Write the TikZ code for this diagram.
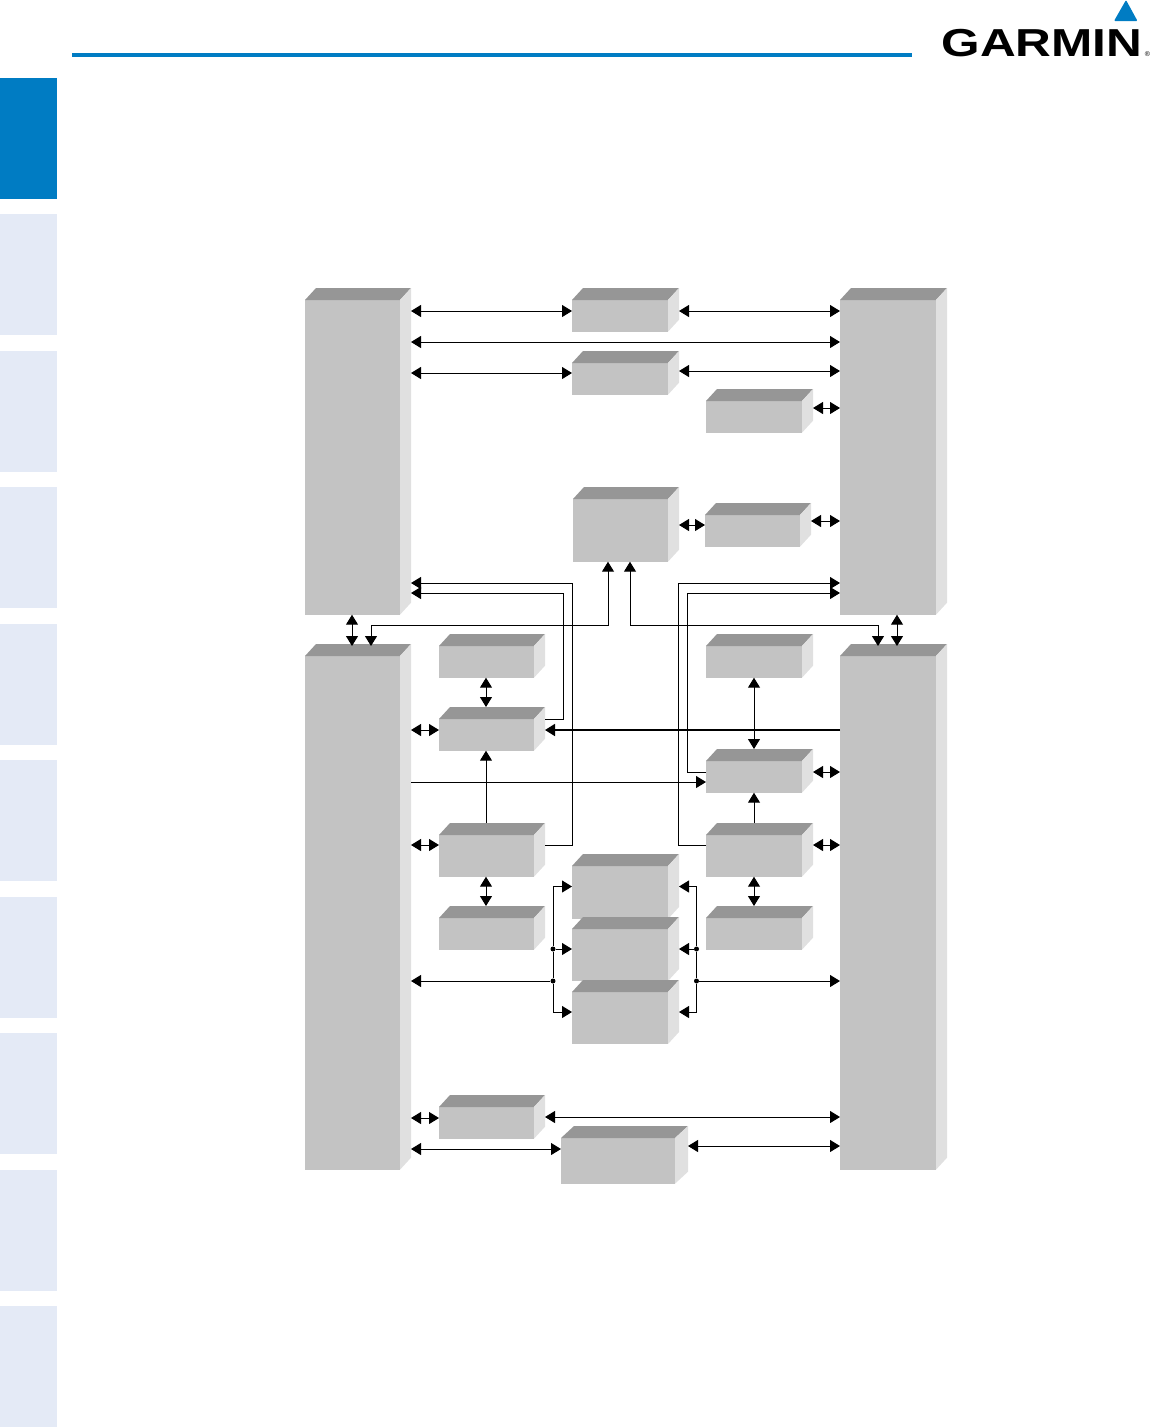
\documentclass[tikz,border=0pt]{standalone}
\usepackage{fontspec}
\newfontfamily\logofont{Liberation Sans}
\usetikzlibrary{arrows.meta, calc}
\definecolor{cblue}{HTML}{007CC3}
\definecolor{ctab}{HTML}{E4EAF6}
\definecolor{cfront}{HTML}{C3C3C3}
\definecolor{ctop}{HTML}{969696}
\definecolor{cside}{HTML}{E0E0E0}
\tikzset{
  >={Triangle[length=10pt, width=12pt]},
  bi/.style={<->, line width=1pt},
  uni/.style={->, line width=1pt},
  wire/.style={line width=1pt},
  over/.style={shorten >=-2pt},
  block/.style={inner sep=0pt, outer sep=0pt, anchor=north west},
  dot/.style={circle, fill=black, inner sep=0pt, minimum size=5pt},
}
% name, front face x, y, width, height; optional depth
\newcommand{\unitbox}[6][11]{
  \fill[cfront] (#3,#4) rectangle ++(#5,#6);
  \fill[ctop] (#3,#4) -- ++(#1,-12) -- ++(#5,0) -- ++(-#1,12) -- cycle;
  \fill[cside] (#3+#5,#4) -- ++(#1,-12) -- ++(0,#6) -- ++(-#1,12) -- cycle;
  \node[block, minimum width=#5pt+#1pt, minimum height=#6pt+12pt] (#2) at (#3,#4-12) {};
}
\begin{document}
\begin{tikzpicture}[x=1pt, y=-1pt]
  \useasboundingbox (0,0) rectangle (1152,1428);
  % page furniture
  \fill[cblue] (0,78) rectangle (57,199);
  \foreach \t in {214,351,487,624,760,897,1033,1170,1306}
    \fill[ctab] (0,\t) rectangle (57,\t+121);
  \fill[cblue] (72,53) rectangle (912,57);
  \fill[cblue, rounded corners=1pt] (1126,0) -- (1137.5,21) -- (1114,21) -- cycle;
  \node[anchor=base, inner sep=0pt, xscale=1.27, transform shape, font=\logofont\bfseries\fontsize{39}{39}\selectfont]
    (logo) at (1042,56) {GARMIN};
  \node[anchor=base, inner sep=0pt, font=\logofont\fontsize{7}{7}\selectfont] (reg) at (1147.5,56) {®};
  % columns
  \unitbox{left1}{305}{300}{95}{314.7}
  \unitbox{right1}{840}{300}{96}{314.7}
  \unitbox{left2}{305}{656}{95}{513.7}
  \unitbox{right2}{840}{656}{96}{513.7}
  % upper units
  \unitbox{c1}{572}{300}{96}{31.7}
  \unitbox{c2}{572}{363}{96}{31.7}
  \unitbox{c3}{706}{401}{96}{31.7}
  \unitbox{c4}{573}{499}{95}{62.7}
  \unitbox{c5}{705}{515}{95}{31.7}
  % lower units
  \unitbox{la}{439}{646}{95}{31.7}
  \unitbox{lb}{439}{719}{95}{31.7}
  \unitbox{lc}{439}{835}{95}{41.7}
  \unitbox{ld}{439}{918}{95}{31.7}
  \unitbox{ra}{706}{646}{96}{31.7}
  \unitbox{rb}{706}{761}{96}{31.7}
  \unitbox{rc}{706}{835}{96}{41.7}
  \unitbox{rd}{706}{918}{96}{31.7}
  \unitbox{s1}{572}{866}{96}{53}
  \unitbox{s2}{572}{929}{96}{52}
  \unitbox{s3}{572}{992}{96}{52}
  \unitbox{ba}{439}{1107}{95}{31.7}
  \unitbox[13]{bb}{561}{1138}{114}{45.7}
  % horizontal links
  \foreach \a/\b/\y in {left1/c1/311, c1/right1/311, left1/right1/342, left1/c2/373, c2/right1/371,
                        c3/right1/408, c4/c5/525, c5/right1/521, left2/lb/730, rb/right2/772,
                        left2/lc/845, rc/right2/845, left2/ba/1118, ba/right2/1117,
                        left2/bb/1149, bb/right2/1146}
    \draw[bi] (\a.east |- 0,\y) -- (\b.west |- 0,\y);
  % vertical links
  \foreach \a/\b/\x in {la/lb/486, lc/ld/486, ra/rb/754, rc/rd/754}
    \draw[bi] (\x,0 |- \a.south) -- (\x,0 |- \b.north);
  \draw[bi, over] (352,0 |- left1.south) -- (352,0 |- left2.north);
  \draw[bi, over] (897,0 |- right1.south) -- (897,0 |- right2.north);
  \draw[uni] (486,0 |- lc.north) -- (486,0 |- lb.south);
  \draw[uni] (754,0 |- rc.north) -- (754,0 |- rb.south);
  \draw[uni, line width=1.6pt] (right2.west |- 0,730) -- (lb.east |- 0,730);
  \draw[uni] (left2.east |- 0,782) -- (rb.west |- 0,782);
  % links to the centre unit
  \draw[bi, over] (608,0 |- c4.south) -- (608,625) -| (371,0 |- left2.north);
  \draw[bi, over] (630,0 |- c4.south) -- (630,625) -| (878,0 |- right2.north);
  % crossing returns
  \draw[uni] (lc.east |- 0,845) -| (572.5,583) -- (left1.east |- 0,583);
  \draw[uni] (lb.east |- 0,719) -| (563,593) -- (left1.east |- 0,593);
  \draw[uni] (rc.west |- 0,845) -| (678,583) -- (right1.west |- 0,583);
  \draw[uni] (rb.west |- 0,772) -| (687,593) -- (right1.west |- 0,593);
  % stacked units
  \node[dot] (dl1) at (553,949) {};
  \node[dot] (dl2) at (553,981) {};
  \node[dot] (dr1) at (696.5,949) {};
  \node[dot] (dr2) at (696.5,981) {};
  \draw[wire] (dl1) -- (dl2);
  \draw[wire] (dr1) -- (dr2);
  \draw[uni] (dl1) |- (s1.west);
  \draw[uni] (dl1) -- (s2.west |- dl1);
  \draw[uni] (dl2) |- (s3.west);
  \draw[uni] (dl2) -- (left2.east |- dl2);
  \draw[uni] (dr1) |- (s1.east);
  \draw[uni] (dr1) -- (s2.east |- dr1);
  \draw[uni] (dr2) |- (s3.east);
  \draw[uni] (dr2) -- (right2.west |- dr2);
\end{tikzpicture}
\end{document}
